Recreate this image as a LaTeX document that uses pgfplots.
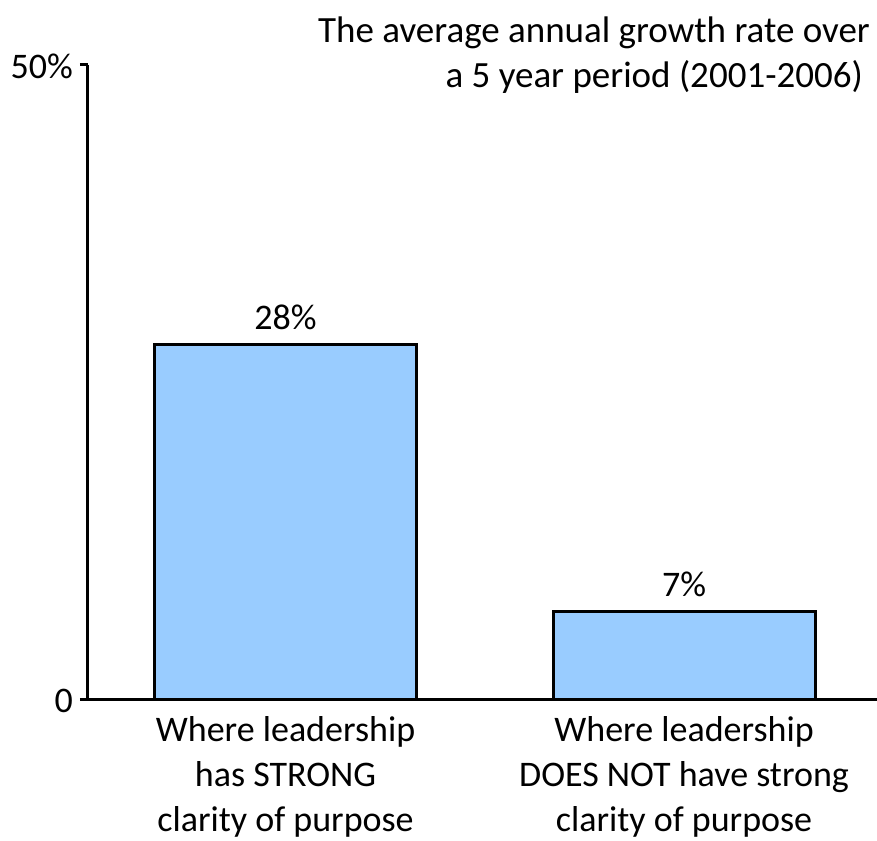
\documentclass[border=0pt]{standalone}
\usepackage{pgfplots}
\pgfplotsset{compat=1.18}
\usepackage{fontspec}
\setmainfont{Carlito}
\definecolor{barblue}{HTML}{99CCFF}
\newcommand\bigf{\fontsize{36bp}{45bp}\selectfont}
\newcommand\titf{\fontsize{37bp}{45bp}\selectfont}
\begin{document}
\bigf
\begin{tikzpicture}
\begin{axis}[
  scale only axis,
  width=789bp, height=635bp,
  xmin=0, xmax=789, ymin=0, ymax=50,
  axis x line*=bottom, axis y line*=left,
  axis line style={-, line width=3bp},
  ytick={0,50}, yticklabels={0,50\%},
  xtick={197.5,596},
  xticklabels={{Where leadership\\has STRONG\\clarity of purpose},{Where leadership\\DOES NOT have strong\\clarity of purpose}},
  xticklabel style={align=center, font=\bigf, yshift=4bp},
  yticklabel style={font=\bigf, xshift=5bp, yshift=-1bp},
  x tick style={draw=none},
  y tick style={line width=3bp, black},
  major tick length=8bp, tick align=outside,
  /pgf/number format/assume math mode=true,
  ybar, bar width=262bp,
  nodes near coords={\pgfmathprintnumber{\pgfplotspointmeta}\%},
  every node near coord/.style={font=\bigf, yshift=1bp},
  clip=false,
]
\addplot[fill=barblue, draw=black, line width=3bp] coordinates {(197.5,28) (596,7)};
\coordinate (ll) at (rel axis cs:0,0);
\coordinate (ur) at (rel axis cs:1,1);
\node[anchor=base east, inner sep=0pt, font=\titf] at ([xshift=-7bp, yshift=22bp]rel axis cs:1,1) {The average annual growth rate over};
\node[anchor=base east, inner sep=0pt, font=\titf] at ([xshift=-14bp, yshift=-23bp]rel axis cs:1,1) {a 5 year period (2001-2006)};
\end{axis}
\pgfresetboundingbox
\path ([xshift=-88bp,yshift=-141bp]ll) rectangle ([yshift=65bp]ur);
\end{tikzpicture}
\end{document}
